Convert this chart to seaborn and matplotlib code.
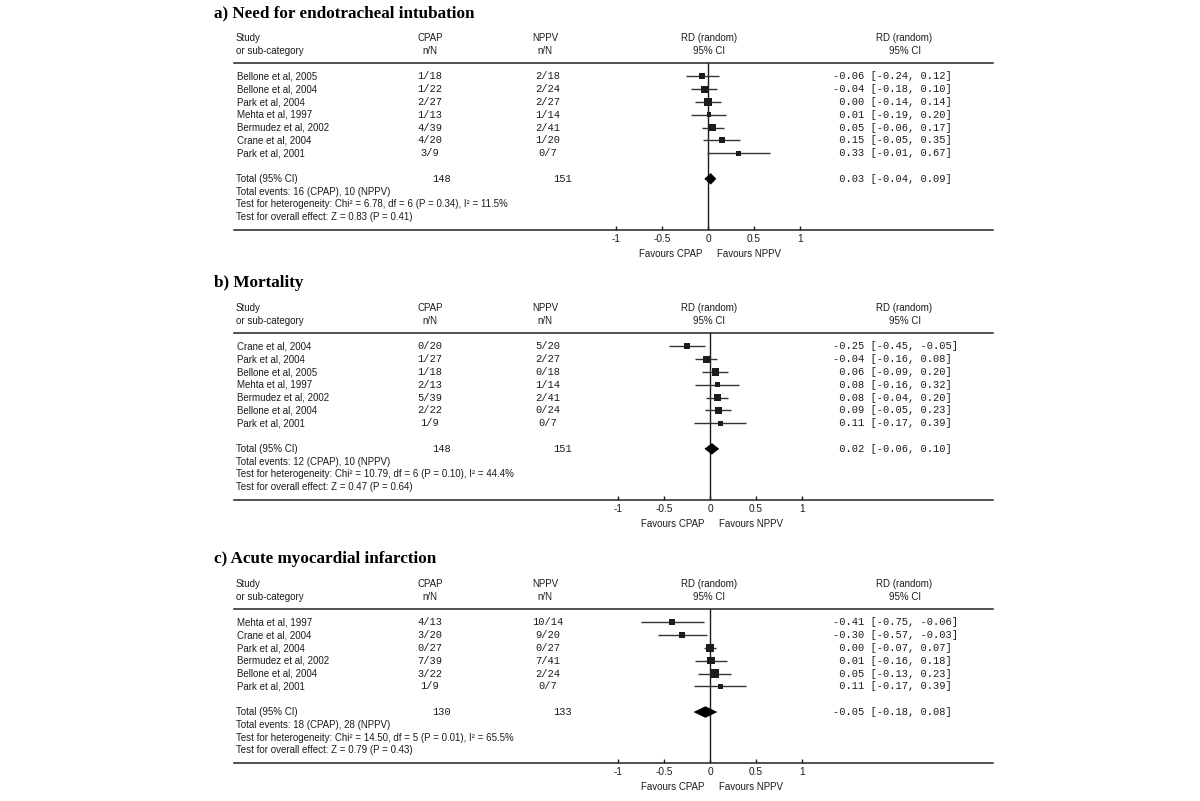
import matplotlib
matplotlib.use("Agg")
import matplotlib.pyplot as plt
from matplotlib.transforms import blended_transform_factory
import seaborn as sns
import pandas as pd

# a) need for endotracheal intubation
studies_a = ["Bellone et al, 2005", "Bellone et al, 2004", "Park et al, 2004", "Mehta et al, 1997",
             "Bermudez et al, 2002", "Crane et al, 2004", "Park et al, 2001"]
cpap_a = ["1/18", "1/22", "2/27", "1/13", "4/39", "4/20", "3/9"]
nppv_a = ["2/18", "2/24", "2/27", "1/14", "2/41", "1/20", "0/7"]
rd_a = [-0.06, -0.04, 0.00, 0.01, 0.05, 0.15, 0.33]
lo_a = [-0.24, -0.18, -0.14, -0.19, -0.06, -0.05, -0.01]
hi_a = [0.12, 0.10, 0.14, 0.20, 0.17, 0.35, 0.67]
box_a = [5, 6, 6, 4, 6, 5, 4]
total_a = [148, 151]
pooled_a = [0.03, -0.04, 0.09]
events_a = "Total events: 16 (CPAP), 10 (NPPV)"
het_a = "Test for heterogeneity: Chi\u00b2 = 6.78, df = 6 (P = 0.34), I\u00b2 = 11.5%"
eff_a = "Test for overall effect: Z = 0.83 (P = 0.41)"

# b) mortality
studies_b = ["Crane et al, 2004", "Park et al, 2004", "Bellone et al, 2005", "Mehta et al, 1997",
             "Bermudez et al, 2002", "Bellone et al, 2004", "Park et al, 2001"]
cpap_b = ["0/20", "1/27", "1/18", "2/13", "5/39", "2/22", "1/9"]
nppv_b = ["5/20", "2/27", "0/18", "1/14", "2/41", "0/24", "0/7"]
rd_b = [-0.25, -0.04, 0.06, 0.08, 0.08, 0.09, 0.11]
lo_b = [-0.45, -0.16, -0.09, -0.16, -0.04, -0.05, -0.17]
hi_b = [-0.05, 0.08, 0.20, 0.32, 0.20, 0.23, 0.39]
box_b = [5, 6, 6, 4, 6, 6, 4]
total_b = [148, 151]
pooled_b = [0.02, -0.06, 0.10]
events_b = "Total events: 12 (CPAP), 10 (NPPV)"
het_b = "Test for heterogeneity: Chi\u00b2 = 10.79, df = 6 (P = 0.10), I\u00b2 = 44.4%"
eff_b = "Test for overall effect: Z = 0.47 (P = 0.64)"

# c) acute myocardial infarction
studies_c = ["Mehta et al, 1997", "Crane et al, 2004", "Park et al, 2004", "Bermudez et al, 2002",
             "Bellone et al, 2004", "Park et al, 2001"]
cpap_c = ["4/13", "3/20", "0/27", "7/39", "3/22", "1/9"]
nppv_c = ["10/14", "9/20", "0/27", "7/41", "2/24", "0/7"]
rd_c = [-0.41, -0.30, 0.00, 0.01, 0.05, 0.11]
lo_c = [-0.75, -0.57, -0.07, -0.16, -0.13, -0.17]
hi_c = [-0.06, -0.03, 0.07, 0.18, 0.23, 0.39]
box_c = [5, 5, 6, 6, 7, 4]
total_c = [130, 133]
pooled_c = [-0.05, -0.18, 0.08]
events_c = "Total events: 18 (CPAP), 28 (NPPV)"
het_c = "Test for heterogeneity: Chi\u00b2 = 14.50, df = 5 (P = 0.01), I\u00b2 = 65.5%"
eff_c = "Test for overall effect: Z = 0.79 (P = 0.43)"

ticks = [-1, -0.5, 0, 0.5, 1]
tick_labels = ["-1", "-0.5", "0", "0.5", "1"]

sns.set_theme(style="white")
plt.rcParams["font.family"] = ["Liberation Sans", "DejaVu Sans"]

W, H = 1200, 801
INK = "#1c1c1c"
MONO = ["Liberation Mono", "DejaVu Sans Mono"]

fig = plt.figure(figsize=(12, 8.01), dpi=100)
bg = fig.add_axes([0, 0, 1, 1])
bg.set_xlim(0, W)
bg.set_ylim(H, 0)
bg.axis("off")


def draw_panel(title, head_y, zero_px, studies, cpap, nppv, rd, lo, hi, box,
               totals, pooled, events, het, eff):
    rh = 12.8
    n = len(studies)
    top_row = -1.05
    bot_row = n + 5
    first = head_y - top_row * rh
    bottom_y = first + bot_row * rh
    left, right, scale = 234, 993, 92.0

    ax = fig.add_axes([left / W, 1 - bottom_y / H, (right - left) / W, (bottom_y - head_y) / H])
    ax.set_facecolor("none")
    ax.set_xlim((left - zero_px) / scale, (right - zero_px) / scale)
    ax.set_ylim(bot_row, top_row)

    rows = list(range(n))
    df = pd.DataFrame({"rd": rd, "row": rows, "box": box})

    # confidence intervals + weighted boxes
    ax.hlines(rows, lo, hi, color="#333333", lw=1.0, zorder=2)
    sizes = {b: (b * 0.72 * 1.2) ** 2 for b in set(box)}
    sns.scatterplot(data=df, x="rd", y="row", size="box", sizes=sizes, marker="s",
                    color=INK, edgecolor="none", legend=False, ax=ax, zorder=3)
    ax.axvline(0, color=INK, lw=1.0, zorder=1)

    # pooled diamond
    tr_row = n + 1
    est, plo, phi = pooled
    ax.fill([plo, est, phi, est], [tr_row, tr_row - 0.45, tr_row, tr_row + 0.45],
            color="black", lw=0, zorder=4)

    ax.set_xlabel("")
    ax.set_ylabel("")
    ax.set_yticks([])
    ax.set_xticks(ticks)
    ax.set_xticklabels(tick_labels)
    ax.tick_params(axis="x", direction="in", length=3, width=1, color=INK,
                   labelsize=7.3, labelcolor=INK, pad=2.5, bottom=True)
    for s in ["left", "right"]:
        ax.spines[s].set_visible(False)
    for s in ["top", "bottom"]:
        ax.spines[s].set_color("#222222")
        ax.spines[s].set_linewidth(1.1)

    tr = blended_transform_factory(bg.transData, ax.transData)
    kw = dict(transform=tr, va="center", fontsize=7, color=INK)
    mono = dict(transform=tr, va="center", fontsize=7.5, color=INK, family=MONO)

    ax.text(214, -4.95, title, transform=tr, va="center", ha="left", fontsize=12.3,
            fontweight="bold", family=["Liberation Serif", "DejaVu Serif"], color="black")
    ax.text(236, -3.0, "Study", ha="left", **kw)
    ax.text(236, -1.95, "or sub-category", ha="left", **kw)
    for x, lab in [(430, "CPAP"), (545, "NPPV"), (709, "RD (random)"), (904, "RD (random)")]:
        ax.text(x, -3.0, lab, ha="center", **kw)
    for x, lab in [(430, "n/N"), (545, "n/N"), (709, "95% CI"), (905, "95% CI")]:
        ax.text(x, -1.95, lab, ha="center", **kw)

    for i in range(n):
        ax.text(237, i, studies[i], ha="left", **kw)
        ax.text(430, i, cpap[i], ha="center", **mono)
        ax.text(548, i, nppv[i], ha="center", **mono)
        ax.text(833, i, f"{rd[i]:5.2f} [{lo[i]:.2f}, {hi[i]:.2f}]", ha="left", **mono)

    ax.text(236, tr_row, "Total (95% CI)", ha="left", **kw)
    ax.text(442, tr_row, str(totals[0]), ha="center", **mono)
    ax.text(563, tr_row, str(totals[1]), ha="center", **mono)
    ax.text(833, tr_row, f"{est:5.2f} [{plo:.2f}, {phi:.2f}]", ha="left", **mono)
    ax.text(236, n + 2, events, ha="left", **kw)
    ax.text(236, n + 3, het, ha="left", **kw)
    ax.text(236, n + 4, eff, ha="left", **kw)

    fav_row = bot_row + 24 / rh
    ax.text(-0.065, fav_row, "Favours CPAP", ha="right", va="center", fontsize=7, color=INK)
    ax.text(0.10, fav_row, "Favours NPPV", ha="left", va="center", fontsize=7, color=INK)


draw_panel("a) Need for endotracheal intubation", 63, 708, studies_a, cpap_a, nppv_a,
           rd_a, lo_a, hi_a, box_a, total_a, pooled_a, events_a, het_a, eff_a)
draw_panel("b) Mortality", 333, 710, studies_b, cpap_b, nppv_b,
           rd_b, lo_b, hi_b, box_b, total_b, pooled_b, events_b, het_b, eff_b)
draw_panel("c) Acute myocardial infarction", 609, 710, studies_c, cpap_c, nppv_c,
           rd_c, lo_c, hi_c, box_c, total_c, pooled_c, events_c, het_c, eff_c)

fig.savefig("out.png", dpi=100, facecolor="white")
